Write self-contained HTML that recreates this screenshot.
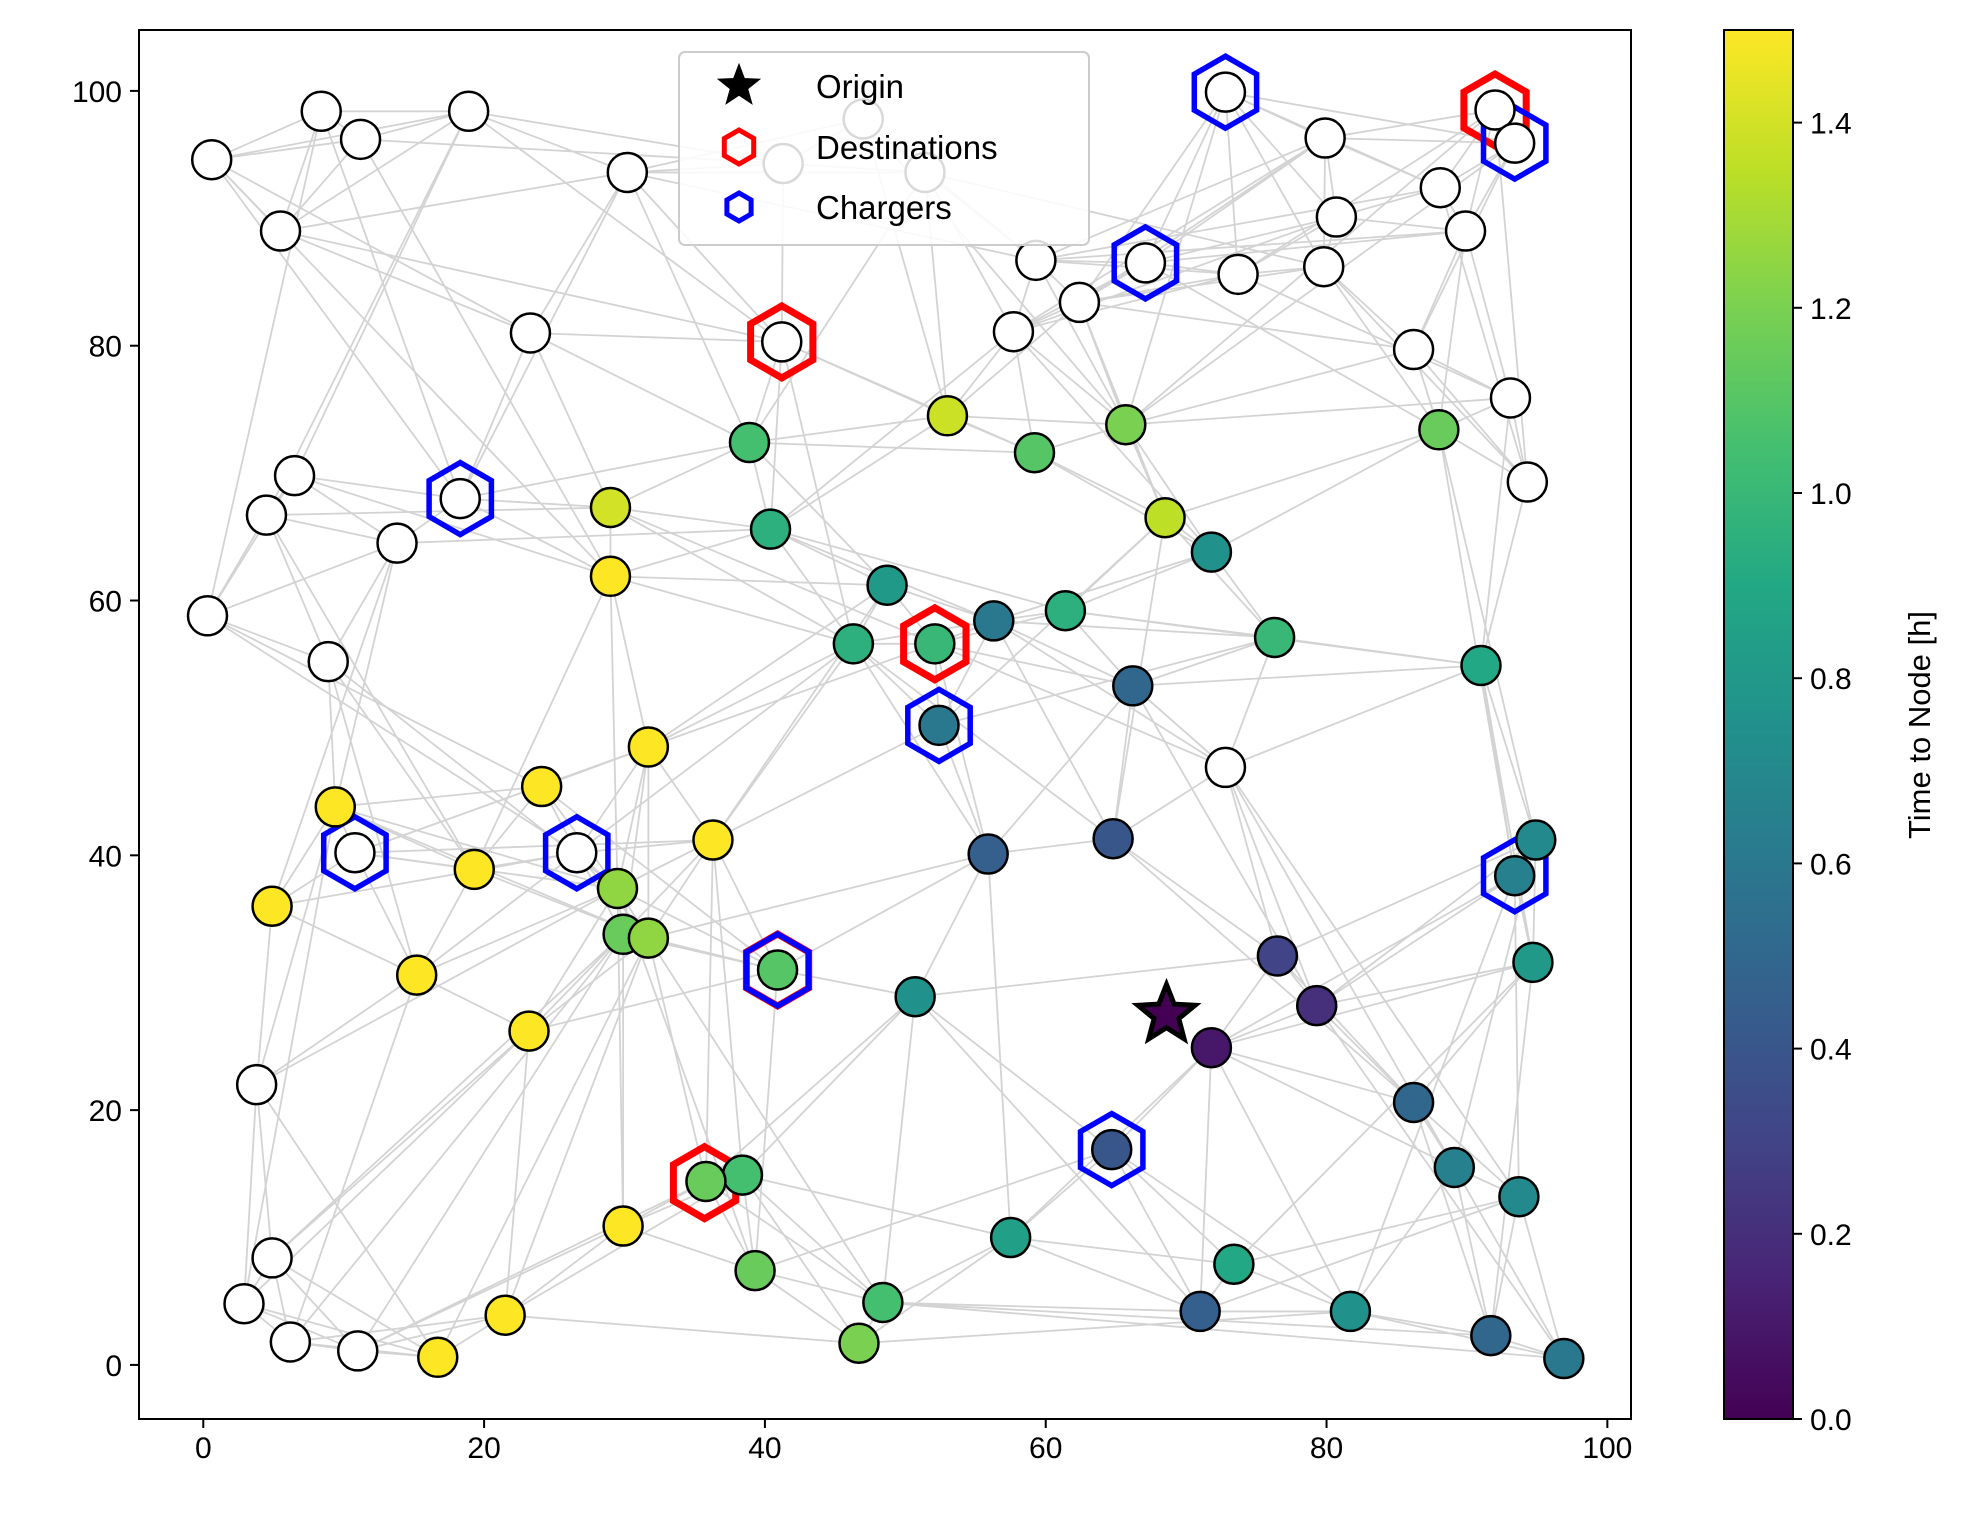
<!DOCTYPE html>
<html><head><meta charset="utf-8"><style>
body{margin:0;background:#fff;}
svg text{font-family:"Liberation Sans","DejaVu Sans",sans-serif;}
</style></head><body>
<svg id="chart" width="1971" height="1515" xmlns="http://www.w3.org/2000/svg">
<defs>
<linearGradient id="vir" x1="0" y1="1" x2="0" y2="0">
<stop offset="0" stop-color="#440154"/><stop offset="0.1" stop-color="#482475"/><stop offset="0.2" stop-color="#414487"/><stop offset="0.3" stop-color="#355f8d"/><stop offset="0.4" stop-color="#2a788e"/><stop offset="0.5" stop-color="#21918c"/><stop offset="0.6" stop-color="#22a884"/><stop offset="0.7" stop-color="#44bf70"/><stop offset="0.8" stop-color="#7ad151"/><stop offset="0.9" stop-color="#bddf26"/><stop offset="1" stop-color="#fde725"/>
</linearGradient>
<clipPath id="pc"><rect x="139" y="30" width="1492" height="1389"/></clipPath>
</defs>
<g id="edges" clip-path="url(#pc)"></g>
<g id="hexes"></g>
<g id="nodes"></g>
<g id="star"></g>
<rect x="139" y="30" width="1492" height="1389" fill="none" stroke="#000" stroke-width="2"/>
<g id="xticks"></g><g id="yticks"></g>
<g id="legend">
<rect x="679" y="52" width="410" height="193" rx="6" fill="#fff" fill-opacity="0.85" stroke="#ccc" stroke-width="2"/>
</g>
<g id="cbar">
<rect x="1724" y="30" width="69" height="1389" fill="url(#vir)" stroke="#000" stroke-width="2"/>
</g>
<text transform="translate(1930,725) rotate(-90)" text-anchor="middle" font-size="31">Time to Node [h]</text>
</svg>
<script>
const whiteX=[0.6,8.4,11.2,18.9,5.5,30.2,41.3,47.0,51.4,72.8,92.0,93.4,79.9,88.1,80.7,89.9,59.3,67.1,73.7,79.8,62.4,57.7,23.3,41.2,86.2,93.1,94.3,6.5,4.5,18.3,13.8,0.3,8.9,72.8,10.8,26.6,3.8,4.9,2.9,6.2,11.0];
const whiteY=[94.6,98.4,96.2,98.4,89.0,93.6,94.3,97.8,93.6,99.9,98.5,95.9,96.3,92.4,90.1,89.0,86.7,86.5,85.6,86.2,83.4,81.1,81.0,80.3,79.7,75.9,69.3,69.8,66.7,68.0,64.5,58.8,55.2,46.9,40.2,40.2,22.0,8.4,4.8,1.8,1.1];
const colX=[53.0,38.9,59.2,65.7,68.5,29.0,40.4,29.0,71.8,88.0,48.7,46.3,52.1,56.3,61.4,76.3,91.0,66.2,31.7,24.1,9.4,52.4,36.3,55.9,64.8,94.9,93.4,19.3,4.9,29.5,29.9,31.7,15.2,40.9,76.5,94.7,50.7,79.3,23.2,71.8,86.2,64.7,89.1,38.4,35.8,93.7,29.9,57.5,73.4,39.3,48.4,21.5,81.7,71.0,46.7,16.7,91.7,96.9];
const colY=[74.5,72.4,71.6,73.8,66.5,67.3,65.6,61.9,63.8,73.4,61.2,56.6,56.6,58.4,59.2,57.1,54.9,53.3,48.5,45.4,43.8,50.2,41.2,40.1,41.3,41.2,38.4,38.9,36.0,37.4,33.8,33.5,30.6,31.0,32.1,31.6,28.9,28.2,26.2,24.9,20.6,16.9,15.5,14.9,14.4,13.2,10.9,10.0,7.9,7.4,4.9,3.9,4.2,4.2,1.7,0.6,2.3,0.5];
const colT=[1.38,1.05,1.1,1.2,1.35,1.4,0.95,1.5,0.75,1.15,0.8,0.95,1.0,0.6,0.95,1.0,0.9,0.5,1.5,1.5,1.5,0.6,1.5,0.45,0.4,0.7,0.65,1.5,1.5,1.25,1.15,1.25,1.5,1.1,0.3,0.8,0.75,0.2,1.5,0.1,0.5,0.4,0.65,1.05,1.15,0.7,1.5,0.85,0.9,1.15,1.05,1.5,0.75,0.45,1.2,1.5,0.5,0.6];
const destX=[41.2,92.0,52.1,40.9,35.7];
const destY=[80.3,98.5,56.6,31.0,14.3];
const chgX=[72.8,93.4,67.1,18.3,52.4,10.8,26.6,93.4,40.9,64.7];
const chgY=[99.9,95.9,86.5,68.0,50.2,40.2,40.2,38.4,31.0,16.9];
const originX=[68.6], originY=[27.5];
const xTicks=[0,20,40,60,80,100];
const yTicks=[0,20,40,60,80,100];
const cTicks=[0.0,0.2,0.4,0.6,0.8,1.0,1.2,1.4];
const legendLabels=["Origin","Destinations","Chargers"];
const NS="http://www.w3.org/2000/svg";
const S=1971/1561;
const sx=v=>(161+v*11.12)*S;
const sy=v=>(1081-v*10.09)*S;
const cy=v=>1419-v/1.5*1389;
const stops=["#440154","#482475","#414487","#355f8d","#2a788e","#21918c","#22a884","#44bf70","#7ad151","#bddf26","#fde725"];
function hx(c){return [1,3,5].map(i=>parseInt(c.substr(i,2),16));}
function vir(t){let u=Math.max(0,Math.min(1,t/1.5))*10,i=Math.min(9,Math.floor(u)),f=u-i,a=hx(stops[i]),b=hx(stops[i+1]);return "rgb("+a.map((v,k)=>Math.round(v+(b[k]-v)*f)).join(",")+")";}
function mk(tag,at,parent){const e=document.createElementNS(NS,tag);for(const k in at)e.setAttribute(k,at[k]);document.getElementById(parent).appendChild(e);return e;}
function hexPts(x,y,r){let p=[];for(let i=0;i<6;i++){const a=Math.PI/180*(90+60*i);p.push((x+r*Math.cos(a)).toFixed(1)+","+(y-r*Math.sin(a)).toFixed(1));}return p.join(" ");}
function starPts(x,y,R,r){let p=[];for(let i=0;i<10;i++){const a=Math.PI/180*(90+36*i),rr=i%2?r:R;p.push((x+rr*Math.cos(a)).toFixed(1)+","+(y-rr*Math.sin(a)).toFixed(1));}return p.join(" ");}
const allX=whiteX.concat(colX), allY=whiteY.concat(colY);
const seen={};
for(let i=0;i<allX.length;i++){
  const d=[];for(let j=0;j<allX.length;j++)if(j!==i)d.push([Math.hypot(allX[i]-allX[j],allY[i]-allY[j]),j]);
  d.sort((a,b)=>a[0]-b[0]);
  const picks=[d[0],d[1],d[2],d[3],d[8],d[15]];
  for(const p of picks){const j=p[1],key=Math.min(i,j)+"-"+Math.max(i,j);if(seen[key])continue;seen[key]=1;
    const e=mk("line",{x1:sx(allX[i]),y1:sy(allY[i]),x2:sx(allX[j]),y2:sy(allY[j]),stroke:"#d3d3d3","stroke-width":1.8},"edges");
    
    }
}
for(let i=0;i<whiteX.length;i++){const e=mk("circle",{cx:sx(whiteX[i]),cy:sy(whiteY[i]),r:19.5,fill:"#fff",stroke:"#000","stroke-width":2.5},"nodes");
  
  }
for(let i=0;i<colX.length;i++){const e=mk("circle",{cx:sx(colX[i]),cy:sy(colY[i]),r:19.5,fill:vir(colT[i]),stroke:"#000","stroke-width":2.5},"nodes");
  
  }
for(let i=0;i<destX.length;i++){const e=mk("polygon",{points:hexPts(sx(destX[i]),sy(destY[i]),36),fill:"none",stroke:"#ff0000","stroke-width":7},"hexes");
  
  }
for(let i=0;i<chgX.length;i++){const e=mk("polygon",{points:hexPts(sx(chgX[i]),sy(chgY[i]),36),fill:"none",stroke:"#0000ff","stroke-width":5.5},"hexes");
  
  }
{const e=mk("polygon",{points:starPts(sx(originX[0]),sy(originY[0]),30,13),fill:"#440154",stroke:"#000","stroke-width":5},"star");
  
  }
for(const t of xTicks){const x=sx(t);
  mk("line",{x1:x,y1:1419,x2:x,y2:1428,stroke:"#000","stroke-width":2},"xticks");
  const e=mk("text",{x:x,y:1458,"text-anchor":"middle","font-size":30},"xticks");e.textContent=t;
  
  }
for(const t of yTicks){const y=sy(t);
  mk("line",{x1:130,y1:y,x2:139,y2:y,stroke:"#000","stroke-width":2},"yticks");
  const e=mk("text",{x:122,y:y+11,"text-anchor":"end","font-size":30},"yticks");e.textContent=t;
  
  }
for(const t of cTicks){const y=cy(t);
  mk("line",{x1:1793,y1:y,x2:1802,y2:y,stroke:"#000","stroke-width":2},"cbar");
  const e=mk("text",{x:1810,y:y+11,"font-size":30},"cbar");e.textContent=t.toFixed(1);
  
  }
const ly=[86,147,207];
{const e=mk("polygon",{points:starPts(739,ly[0],19,8),fill:"#000",stroke:"#000","stroke-width":3},"legend");}
{const e=mk("polygon",{points:hexPts(739,ly[1],17),fill:"none",stroke:"#ff0000","stroke-width":5},"legend");}
{const e=mk("polygon",{points:hexPts(739,ly[2],14),fill:"none",stroke:"#0000ff","stroke-width":5},"legend");}
for(let i=0;i<legendLabels.length;i++){const e=mk("text",{x:816,y:ly[i]+12,"font-size":33},"legend");e.textContent=legendLabels[i];
  
  }
</script>
</body></html>
